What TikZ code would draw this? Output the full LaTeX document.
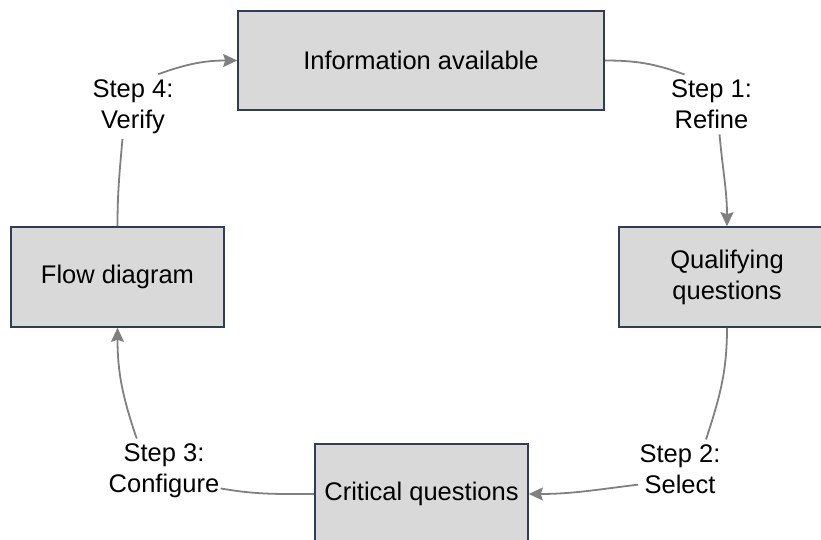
\documentclass[tikz,border=0pt]{standalone}
\usepackage{fontspec}
\setmainfont{Liberation Sans}
\usetikzlibrary{arrows.meta}

\definecolor{boxfill}{RGB}{217,217,217}
\definecolor{boxline}{RGB}{47,62,82}
\definecolor{linkgray}{RGB}{128,128,128}

\tikzset{
  stagebox/.style={draw=boxline, fill=boxfill, line width=0.8pt,
    align=center, inner sep=0pt,
    font=\fontsize{12.75pt}{15.5pt}\selectfont},
  steplabel/.style={align=center, inner xsep=0.5pt, inner ysep=2.5pt,
    font=\fontsize{12.75pt}{15.5pt}\selectfont},
  link/.style={draw=linkgray, line width=0.9pt},
  arrowlink/.style={link, -{Stealth[length=7pt, width=6.5pt, inset=1pt]}}
}

\begin{document}
\begin{tikzpicture}[x=0.5pt, y=0.5pt]
  % page frame: 821 x 540 units, origin at the top-left corner
  \useasboundingbox (0,0) rectangle (821,-540);
  \clip (0,0) rectangle (821,-540);

  % the four stages of the cycle
  \node[stagebox, minimum width=183pt, minimum height=49.5pt]
    (info) at (421,-60.5) {Information available};
  \node[stagebox, minimum width=108pt, minimum height=50pt]
    (qual) at (727,-277) {Qualifying\\questions};
  \node[stagebox, minimum width=106.5pt, minimum height=50pt]
    (crit) at (421.5,-494) {Critical questions};
  \node[stagebox, minimum width=106.5pt, minimum height=50pt]
    (flow) at (117.5,-277) {Flow diagram};

  % step labels sitting on the connectors
  \node[steplabel] (s1) at (711.5,-104.4) {Step 1:\\Refine};
  \node[steplabel] (s2) at (680,-469.4) {Step 2:\\Select};
  \node[steplabel] (s3) at (164,-471.1) {Step 3:\\Configure};
  \node[steplabel] (s4) at (133,-106.6) {Step 4:\\Verify};

  % connectors, each broken by its label
  \draw[link] (info.east) to[out=0, in=160] (s1.132);
  \draw[arrowlink] (s1.-75) to[out=-85, in=90] (qual.north);

  \draw[link] (qual.south) to[out=-90, in=72] (s2.49);
  \draw[arrowlink] (s2.200) to[out=187, in=0] (crit.east);

  \draw[link] (crit.west) to[out=180, in=-10] (s3.-17);
  \draw[arrowlink] (s3.130) to[out=109, in=-90] (flow.south);

  \draw[link] (flow.north) to[out=90, in=-95] (s4.252);
  \draw[arrowlink] (s4.52) to[out=20, in=180] (info.west);
\end{tikzpicture}
\end{document}
